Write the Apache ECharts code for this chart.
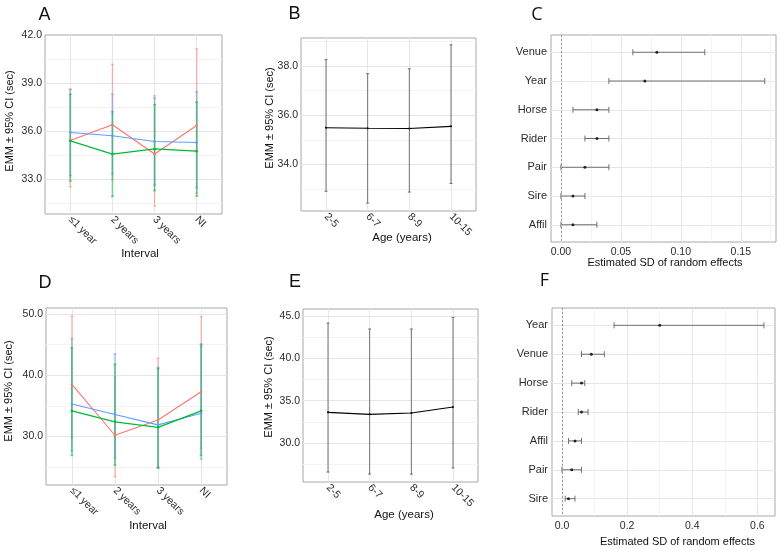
<!DOCTYPE html>
<html><head><meta charset="utf-8">
<script src="https://cdn.jsdelivr.net/npm/echarts/dist/echarts.min.js"></script>
<style>html,body{margin:0;padding:0;background:#fff}#c{width:780px;height:550px}</style>
</head><body><div id="c"></div>
<script>
// ---------- data ----------
const intervals = ['≤1 year', '2 years', '3 years', 'NI'];
const ages = ['2-5', '6-7', '8-9', '10-15'];

// Panel A (interval, three groups)
const aRedMean  = [35.40, 36.38, 34.55, 36.34];
const aRedLow   = [32.50, 32.95, 31.30, 32.10];
const aRedHigh  = [38.60, 40.17, 38.20, 41.13];
const aBlueMean = [35.90, 35.70, 35.34, 35.27];
const aBlueLow  = [33.20, 33.30, 32.60, 32.45];
const aBlueHigh = [38.60, 38.30, 38.05, 38.46];
const aGreenMean = [35.38, 34.55, 34.87, 34.73];
const aGreenLow  = [32.85, 31.90, 32.26, 31.92];
const aGreenHigh = [38.30, 37.20, 37.64, 37.80];

// Panel B (age)
const bMean = [35.49, 35.47, 35.46, 35.55];
const bLow  = [32.91, 32.43, 32.88, 33.23];
const bHigh = [38.26, 37.69, 37.89, 38.86];

// Panel C (random effects SD)
const cEffects = ['Venue', 'Year', 'Horse', 'Rider', 'Pair', 'Sire', 'Affil'];
const cMean = [0.08, 0.07, 0.03, 0.03, 0.02, 0.01, 0.01];
const cLow  = [0.06, 0.04, 0.01, 0.02, 0.00, 0.00, 0.00];
const cHigh = [0.12, 0.17, 0.04, 0.04, 0.04, 0.02, 0.03];

// Panel D (interval, three groups)
const dRedMean  = [38.5, 30.2, 32.7, 37.3];
const dRedLow   = [29.8, 23.4, 24.9, 28.1];
const dRedHigh  = [49.7, 39.7, 42.8, 49.6];
const dBlueMean = [35.3, 33.6, 31.9, 33.8];
const dBlueLow  = [27.6, 26.5, 25.0, 26.3];
const dBlueHigh = [46.0, 43.5, 41.3, 44.8];
const dGreenMean = [34.2, 32.4, 31.5, 34.2];
const dGreenLow  = [26.9, 25.3, 24.8, 26.9];
const dGreenHigh = [44.5, 41.8, 41.1, 45.1];

// Panel E (age)
const eMean = [33.62, 33.38, 33.54, 34.25];
const eLow  = [26.55, 26.31, 26.31, 27.03];
const eHigh = [44.20, 43.49, 43.49, 44.87];

// Panel F (random effects SD)
const fEffects = ['Year', 'Venue', 'Horse', 'Rider', 'Affil', 'Pair', 'Sire'];
const fMean = [0.30, 0.09, 0.06, 0.06, 0.04, 0.03, 0.02];
const fLow  = [0.16, 0.06, 0.03, 0.05, 0.02, 0.00, 0.01];
const fHigh = [0.62, 0.13, 0.07, 0.08, 0.06, 0.06, 0.04];

// ---------- styling ----------
const FONT = '"Liberation Sans", Arial, sans-serif';
const TXT = '#2b2b2b';
const GRIDC = '#e6e6e6';
const MINORC = '#f3f3f3';
const RED = '#F8766D', BLUE = '#619CFF', GREEN = '#00BA38';

const grids = [
  {left: 45, top: 35, width: 177, height: 179},   // A
  {left: 301, top: 38, width: 175, height: 173},  // B
  {left: 551, top: 35, width: 225, height: 207},  // C
  {left: 46, top: 308, width: 181, height: 177},  // D
  {left: 303, top: 309, width: 175, height: 173}, // E
  {left: 552, top: 308, width: 223, height: 208}  // F
].map(g => Object.assign({show: true, borderColor: '#a8a8a8', borderWidth: 1,
  backgroundColor: 'transparent'}, g));

function isMult(v, step) { const r = v / step; return Math.abs(r - Math.round(r)) < 1e-6; }
function catName(names, v) {
  if (!isMult(v, 1)) return '';
  const i = Math.round(v) - 1;
  return names[i] !== undefined ? names[i] : '';
}

function catX(gi, names) {
  return {type: 'value', gridIndex: gi, min: 0.4, max: 4.6, splitNumber: 4,
    axisLine: {show: false}, axisTick: {show: false},
    splitLine: {show: true, showMinLine: false, showMaxLine: false, lineStyle: {color: GRIDC, width: 1}},
    axisLabel: {rotate: -45, fontSize: 10.5, color: TXT, fontFamily: FONT, margin: 4,
      formatter: v => catName(names, v)}};
}
function valY(gi, min, max, splitNumber, step) {
  return {type: 'value', gridIndex: gi, min: min, max: max, splitNumber: splitNumber,
    axisLine: {show: false}, axisTick: {show: false},
    splitLine: {show: true, showMinLine: false, showMaxLine: false, lineStyle: {color: GRIDC, width: 1}},
    minorTick: {show: false, splitNumber: 2},
    minorSplitLine: {show: true, lineStyle: {color: MINORC, width: 1}},
    axisLabel: {fontSize: 10.5, color: TXT, fontFamily: FONT, margin: 3,
      formatter: v => isMult(v, step) ? v.toFixed(1) : ''}};
}
function valX(gi, min, max, splitNumber, step, dec) {
  return {type: 'value', gridIndex: gi, min: min, max: max, splitNumber: splitNumber,
    axisLine: {show: false}, axisTick: {show: false},
    splitLine: {show: true, showMinLine: false, showMaxLine: false, lineStyle: {color: GRIDC, width: 1}},
    minorTick: {show: false, splitNumber: 2},
    minorSplitLine: {show: true, lineStyle: {color: MINORC, width: 1}},
    axisLabel: {fontSize: 10.5, color: TXT, fontFamily: FONT, margin: 5,
      formatter: v => isMult(v, step) ? v.toFixed(dec) : ''}};
}
function catY(gi, names) {
  return {type: 'value', gridIndex: gi, min: 0.4, max: 7.6, splitNumber: 7, inverse: true,
    axisLine: {show: false}, axisTick: {show: false},
    splitLine: {show: true, showMinLine: false, showMaxLine: false, lineStyle: {color: GRIDC, width: 1}},
    axisLabel: {fontSize: 11, color: TXT, fontFamily: FONT, margin: 4,
      formatter: v => catName(names, v)}};
}

function vErrSeries(ai, mean, low, high, color, width, cap, opacity) {
  const data = low.map((l, i) => [i + 1, l, high[i]]);
  return {type: 'custom', xAxisIndex: ai, yAxisIndex: ai, silent: true, animation: false,
    dimensions: ['x', 'lo', 'hi'], encode: {x: 0, y: [1, 2]}, data: data,
    renderItem: function (params, api) {
      const x = api.value(0), lo = api.value(1), hi = api.value(2);
      const a = api.coord([x, hi]), b = api.coord([x, lo]);
      const st = {stroke: color, lineWidth: width, opacity: opacity};
      return {type: 'group', children: [
        {type: 'line', shape: {x1: a[0], y1: a[1], x2: b[0], y2: b[1]}, style: st},
        {type: 'line', shape: {x1: a[0] - cap, y1: a[1], x2: a[0] + cap, y2: a[1]}, style: st},
        {type: 'line', shape: {x1: b[0] - cap, y1: b[1], x2: b[0] + cap, y2: b[1]}, style: st}
      ]};
    }};
}
function hErrSeries(ai, low, high, color, width, cap) {
  const data = low.map((l, i) => [l, high[i], i + 1]);
  return {type: 'custom', xAxisIndex: ai, yAxisIndex: ai, silent: true, animation: false,
    dimensions: ['lo', 'hi', 'y'], encode: {x: [0, 1], y: 2}, data: data,
    renderItem: function (params, api) {
      const lo = api.value(0), hi = api.value(1), y = api.value(2);
      const a = api.coord([lo, y]), b = api.coord([hi, y]);
      const st = {stroke: color, lineWidth: width};
      return {type: 'group', children: [
        {type: 'line', shape: {x1: a[0], y1: a[1], x2: b[0], y2: b[1]}, style: st},
        {type: 'line', shape: {x1: a[0], y1: a[1] - cap, x2: a[0], y2: a[1] + cap}, style: st},
        {type: 'line', shape: {x1: b[0], y1: b[1] - cap, x2: b[0], y2: b[1] + cap}, style: st}
      ]};
    }};
}
function lineSeries(ai, mean, color, width, size) {
  return {type: 'line', xAxisIndex: ai, yAxisIndex: ai, silent: true, animation: false,
    data: mean.map((m, i) => [i + 1, m]), symbol: 'circle', symbolSize: size,
    itemStyle: {color: color}, lineStyle: {color: color, width: width}};
}
function dotSeries(ai, mean) {
  return {type: 'scatter', xAxisIndex: ai, yAxisIndex: ai, silent: true, animation: false,
    data: mean.map((m, i) => [m, i + 1]), symbolSize: 3, itemStyle: {color: '#000'},
    markLine: {silent: true, symbol: ['none', 'none'], label: {show: false},
      lineStyle: {color: '#9a9a9a', width: 1, type: [2, 2]}, data: [{xAxis: 0}]}};
}

const series = [
  // A
  vErrSeries(0, aRedMean, aRedLow, aRedHigh, RED, 1.3, 1.5, 0.5),
  vErrSeries(0, aBlueMean, aBlueLow, aBlueHigh, BLUE, 1.6, 1.5, 0.5),
  vErrSeries(0, aGreenMean, aGreenLow, aGreenHigh, GREEN, 1.6, 1.5, 0.5),
  lineSeries(0, aRedMean, RED, 1.1, 2.5),
  lineSeries(0, aBlueMean, BLUE, 1.1, 2.5),
  lineSeries(0, aGreenMean, GREEN, 1.3, 2.5),
  // B
  vErrSeries(1, bMean, bLow, bHigh, '#555', 0.9, 1.5, 0.9),
  lineSeries(1, bMean, '#000', 1.1, 2),
  // C
  hErrSeries(2, cLow, cHigh, '#707070', 1, 3),
  dotSeries(2, cMean),
  // D
  vErrSeries(3, dRedMean, dRedLow, dRedHigh, RED, 1.3, 1.5, 0.5),
  vErrSeries(3, dBlueMean, dBlueLow, dBlueHigh, BLUE, 1.6, 1.5, 0.5),
  vErrSeries(3, dGreenMean, dGreenLow, dGreenHigh, GREEN, 1.6, 1.5, 0.5),
  lineSeries(3, dRedMean, RED, 1.1, 2.5),
  lineSeries(3, dBlueMean, BLUE, 1.1, 2.5),
  lineSeries(3, dGreenMean, GREEN, 1.3, 2.5),
  // E
  vErrSeries(4, eMean, eLow, eHigh, '#555', 0.9, 1.5, 0.9),
  lineSeries(4, eMean, '#000', 1.1, 2),
  // F
  hErrSeries(5, fLow, fHigh, '#707070', 1, 3),
  dotSeries(5, fMean)
];

function txt(s, x, y, size, rot, family) {
  return {type: 'text', x: x, y: y, rotation: rot || 0, silent: true,
    style: {text: s, font: size + 'px ' + (family || FONT), fill: '#111',
      align: 'center', verticalAlign: 'middle'}};
}
const TITLE_Y = 'EMM \u00B1 95% CI (sec)';
const graphics = [
  txt('A', 44.5, 15, 18), txt('B', 294.5, 14.5, 18), txt('C', 537, 14.5, 18, 0, '"Open Sans", ' + FONT),
  txt('D', 45, 283, 18), txt('E', 295, 282.5, 18), txt('F', 544.5, 280.5, 18, 0, '"Open Sans", ' + FONT),
  txt(TITLE_Y, 10, 121, 11, Math.PI / 2), txt(TITLE_Y, 270, 118, 11, Math.PI / 2),
  txt(TITLE_Y, 9, 391, 11, Math.PI / 2), txt(TITLE_Y, 269, 387, 11, Math.PI / 2),
  txt('Interval', 140, 253.5, 11.5), txt('Age (years)', 402, 238, 11.5),
  txt('Interval', 148, 525.5, 11.5), txt('Age (years)', 404, 514.5, 11.5),
  txt('Estimated SD of random effects', 665, 263, 11), txt('Estimated SD of random effects', 677.5, 542, 11)
];

const option = {
  animation: false,
  backgroundColor: '#ffffff',
  textStyle: {fontFamily: FONT},
  grid: grids,
  xAxis: [
    catX(0, intervals),
    catX(1, ages),
    valX(2, -0.0083, 0.1794, 4, 0.05, 2),
    catX(3, intervals),
    catX(4, ages),
    valX(5, -0.0306, 0.654, 3, 0.2, 1)
  ],
  yAxis: [
    valY(0, 30.8, 42, 4, 3),
    valY(1, 32.11, 39.14, 3, 2),
    catY(2, cEffects),
    valY(3, 22.07, 51, 3, 10),
    valY(4, 25.37, 45.86, 4, 5),
    catY(5, fEffects)
  ],
  series: series,
  graphic: graphics
};

const chart = echarts.init(document.getElementById('c'), null, {renderer: 'canvas'});
chart.setOption(option);
</script>
</body></html>
